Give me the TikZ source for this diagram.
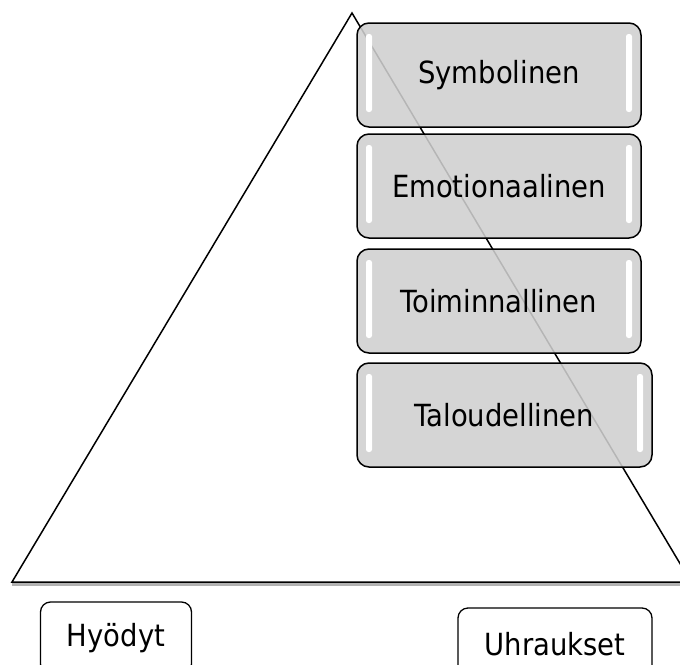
\documentclass[tikz,border=0pt]{standalone}
\usepackage{fontspec}
\setmainfont{DejaVu Sans Condensed}
\usepackage{tikz}

\tikzset{
    level/.style={draw=black, line width=1.5pt, rounded corners=12pt,
        fill=black!19, fill opacity=0.88, text opacity=1,
        minimum width=284pt, minimum height=104pt,
        font=\fontsize{30.5}{36}\selectfont,
        path picture={
            \fill[white, fill opacity=1, rounded corners=2.5pt]
                ([xshift=9pt, yshift=-11pt]path picture bounding box.north west) rectangle
                ([xshift=15pt, yshift=15pt]path picture bounding box.south west);
            \fill[white, fill opacity=1, rounded corners=2.5pt]
                ([xshift=-15pt, yshift=-11pt]path picture bounding box.north east) rectangle
                ([xshift=-9pt, yshift=15pt]path picture bounding box.south east);
        }},
    side/.style={draw=black, line width=1.3pt, rounded corners=10pt, fill=white,
        minimum height=72pt, font=\fontsize{30.5}{36}\selectfont}
}

\begin{document}
\begin{tikzpicture}[x=1pt, y=-1pt]
    \useasboundingbox (0, 0) rectangle (680, 664);

    % Triangle
    \coordinate (apex) at (352, 13);
    \coordinate (baseL) at (12, 582);
    \coordinate (baseR) at (691, 582);
    \draw[black!30, line width=2.5pt] ([yshift=-2.5pt]baseL) -- ([yshift=-2.5pt]baseR);
    \draw[line width=1.5pt] (baseL) -- (apex) -- (baseR) -- cycle;

    % Value levels
    \node[level] (symb) at (499, 75) {Symbolinen};
    \node[level] (emot) at (499, 186) {Emotionaalinen};
    \node[level] (toim) at (499, 301) {Toiminnallinen};
    \node[level, minimum width=295pt] (talo) at (504.5, 415) {Taloudellinen};

    % Benefits and sacrifices
    \node[side, minimum width=151pt] (hyot) at (116, 638) {Hyödyt};
    \node[side, minimum width=194pt] (uhra) at (555, 644) {Uhraukset};
\end{tikzpicture}
\end{document}
